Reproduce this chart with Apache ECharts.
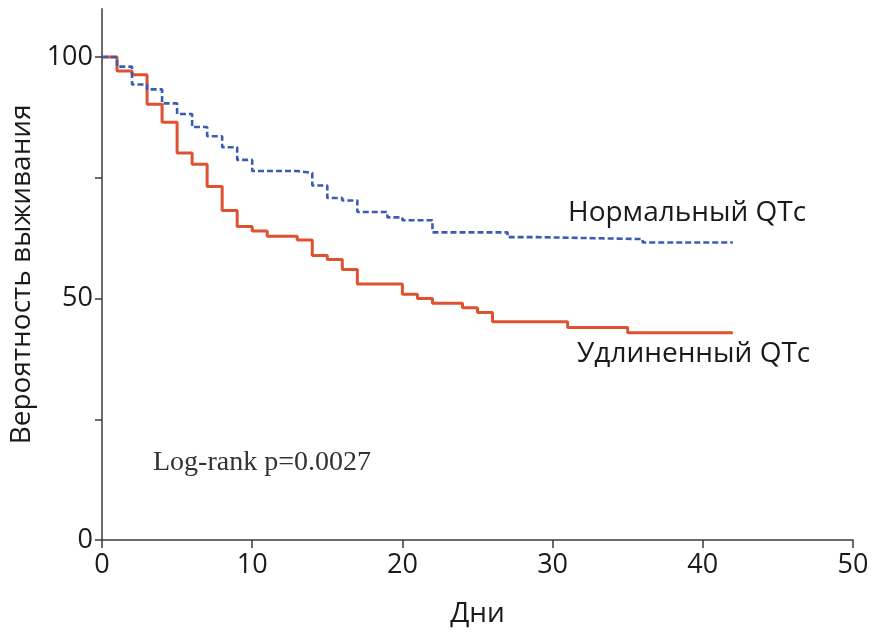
<!DOCTYPE html>
<html>
<head>
<meta charset="utf-8">
<script src="https://cdn.jsdelivr.net/npm/echarts@6/dist/echarts.min.js"></script>
<style>
  html, body { margin: 0; padding: 0; background: #fff; }
  #main { width: 873px; height: 632px; }
</style>
</head>
<body>
<div id="main"></div>
<script>
// Нормальный QTc (синяя пунктирная)
var normDays = [0, 1, 2, 3, 4, 5, 6, 7, 8, 9, 10, 13, 14, 15, 16, 17, 19, 20, 22, 27, 29, 36, 42];
var normSurv = [100, 98.0, 94.3, 93.3, 90.4, 88.2, 85.5, 83.6, 81.3, 78.7, 76.4, 76.0, 73.4, 70.8, 70.3, 67.9, 66.8, 66.2, 63.7, 62.7, 62.3, 61.6, 61.6];
// Удлиненный QTc (красная)
var longDays = [0, 1, 2, 3, 4, 5, 6, 7, 8, 9, 10, 11, 13, 14, 15, 16, 17, 20, 21, 22, 24, 25, 26, 31, 35, 42];
var longSurv = [100, 97.1, 96.3, 90.2, 86.5, 80.1, 77.8, 73.2, 68.2, 64.9, 64.0, 62.9, 62.1, 58.9, 58.1, 56.0, 53.0, 50.9, 50.0, 49.0, 48.1, 47.1, 45.2, 44.0, 42.9, 42.9];

var yLabels = [0, 50, 100];
var yTicks = [0, 25, 50, 75, 100];

function pairs(x, y) {
    var out = [];
    for (var i = 0; i < x.length; i++) {
        out.push([x[i], y[i]]);
    }
    return out;
}

var axisColor = '#3a3a3a';
var textColor = '#1a1a1a';
var chart = echarts.init(document.getElementById('main'));
chart.setOption({
    animation: false,
    grid: { left: 102, right: 20, top: 8.7, bottom: 92, outerBoundsMode: 'none' },
    xAxis: {
        type: 'value',
        min: 0, max: 50, interval: 10,
        name: 'Дни',
        nameLocation: 'middle',
        nameGap: 60,
        nameTextStyle: { fontFamily: 'Open Sans', fontSize: 28, color: textColor },
        axisLine: { lineStyle: { color: axisColor, width: 1.5 } },
        axisTick: { show: true, length: 8, lineStyle: { color: axisColor, width: 1.5 } },
        axisLabel: { fontFamily: 'Open Sans', fontSize: 27, color: textColor, margin: 12 },
        splitLine: { show: false }
    },
    yAxis: {
        type: 'value',
        min: 0, max: 110,
        name: 'Вероятность выживания',
        nameLocation: 'middle',
        nameGap: 66,
        nameRotate: 90,
        nameTextStyle: { fontFamily: 'Open Sans', fontSize: 28, color: textColor },
        axisLine: { lineStyle: { color: axisColor, width: 1.5 } },
        axisTick: { show: true, length: 7, customValues: yTicks, lineStyle: { color: axisColor, width: 1.5 } },
        axisLabel: { fontFamily: 'Open Sans', fontSize: 27, color: textColor, margin: 9, customValues: yLabels },
        splitLine: { show: false }
    },
    series: [
        {
            name: 'Нормальный QTc',
            type: 'line',
            step: 'end',
            symbol: 'none',
            data: pairs(normDays, normSurv),
            lineStyle: { color: '#3a5cb2', width: 2.6, type: [6, 3] },
            z: 3
        },
        {
            name: 'Удлиненный QTc',
            type: 'line',
            step: 'end',
            symbol: 'none',
            data: pairs(longDays, longSurv),
            lineStyle: { color: '#df5230', width: 3 },
            z: 2
        }
    ],
    graphic: [
        {
            type: 'text', left: 568, top: 199,
            style: { text: 'Нормальный QTc', fontFamily: 'Open Sans', fontSize: 28, fill: textColor }
        },
        {
            type: 'text', left: 577, top: 340,
            style: { text: 'Удлиненный QTc', fontFamily: 'Open Sans', fontSize: 28, fill: textColor }
        },
        {
            type: 'text', left: 153, top: 449,
            style: { text: 'Log-rank p=0.0027', fontFamily: 'Liberation Serif', fontSize: 28, fill: '#333' }
        }
    ]
});
</script>
</body>
</html>
